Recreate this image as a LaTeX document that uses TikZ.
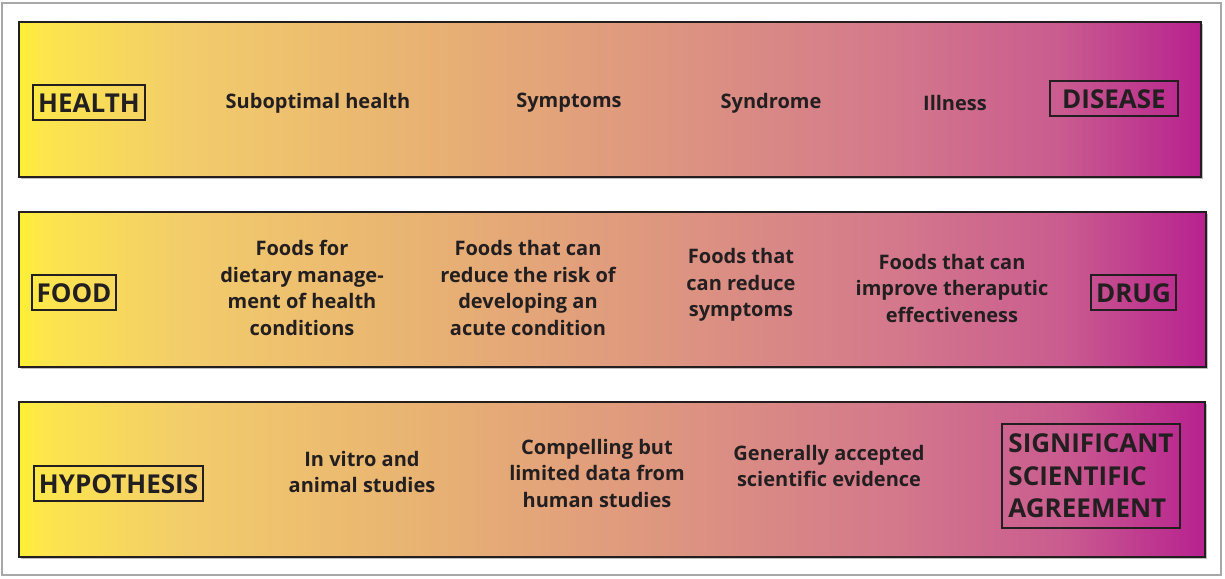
\documentclass[tikz,border=0pt]{standalone}
\usepackage{fontspec}
\setmainfont{Open Sans}
\usetikzlibrary{positioning,shadows}

\definecolor{ink}{HTML}{231F20}
\definecolor{frame}{HTML}{A8A8A8}

% yellow -> tan -> pink -> magenta, path mapped onto 25bp..75bp
\pgfdeclarehorizontalshading{spectrum}{100bp}{
  rgb(0bp)=(1,0.94,0.20);
  rgb(25bp)=(1,0.94,0.20);
  rgb(26bp)=(0.99,0.90,0.30);
  rgb(32bp)=(0.95,0.80,0.42);
  rgb(42bp)=(0.91,0.70,0.45);
  rgb(52bp)=(0.87,0.59,0.50);
  rgb(62bp)=(0.83,0.47,0.55);
  rgb(69bp)=(0.79,0.36,0.56);
  rgb(75bp)=(0.72,0.13,0.56);
  rgb(100bp)=(0.72,0.13,0.56)}

\begin{document}
\begin{tikzpicture}[
    x=1pt, y=-1pt,
    band/.style={rectangle, draw=ink, line width=2pt, shading=spectrum, minimum height=155pt, inner sep=0pt,
      drop shadow={shadow xshift=2pt, shadow yshift=-2pt, fill=black!25, opacity=1}},
    tag/.style={rectangle, draw=ink, line width=2pt, text=ink, font=\bfseries\fontsize{26}{31}\selectfont, inner xsep=5pt, inner ysep=8pt, text height=19pt, text depth=0pt},
    bigtag/.style={rectangle, draw=ink, line width=2pt, text=ink, font=\bfseries\fontsize{26}{32.5}\selectfont, align=left, inner xsep=6pt, inner ysep=10pt},
    stage/.style={text=ink, font=\bfseries\fontsize{20}{26.5}\selectfont, align=center, inner sep=0pt}
  ]

    \useasboundingbox (0,0) rectangle (1225,578);
    \draw[frame, line width=1.5pt] (2,3) rectangle (1221,575);

    % Three scales
    \node[band, minimum width=1182pt] (health) at (610,99.5) {};
    \node[band, minimum width=1187pt] (food) at (612.5,289.5) {};
    \node[band, minimum width=1186pt] (evidence) at (612,479.5) {};

    % Health scale
    \node[tag] (healthtag) at (89,102.5) {HEALTH};
    \node[stage] (subopt) at (318,103) {Suboptimal health};
    \node[stage] (sympt) at (569,103) {Symptoms};
    \node[stage] (syndr) at (771,103) {Syndrome};
    \node[stage] (ill) at (955,103) {Illness};
    \node[tag, minimum width=128pt] (diseasetag) at (1114,98.5) {DISEASE};

    % Food scale
    \node[tag] (foodtag) at (74,292.5) {FOOD};
    \node[stage] (dietary) at (302,288) {Foods for\\dietary manage-\\ment of health\\conditions};
    \node[stage] (acute) at (528,288) {Foods that can\\reduce the risk of\\developing an\\acute condition};
    \node[stage] (reduce) at (741,285) {Foods that\\can reduce\\symptoms};
    \node[stage] (improve) at (952,288) {Foods that can\\improve theraputic\\effectiveness};
    \node[tag] (drugtag) at (1133.5,292.5) {DRUG};

    % Evidence scale
    \node[tag] (hypotag) at (118.5,483.5) {HYPOTHESIS};
    \node[stage] (vitro) at (362,472) {In vitro and\\animal studies};
    \node[stage] (limited) at (597,473) {Compelling but\\limited data from\\human studies};
    \node[stage] (accepted) at (829,466) {Generally accepted\\scientific evidence};
    \node[bigtag] (sigtag) at (1091,476) {SIGNIFICANT\\SCIENTIFIC\\AGREEMENT};

  \end{tikzpicture}
\end{document}
